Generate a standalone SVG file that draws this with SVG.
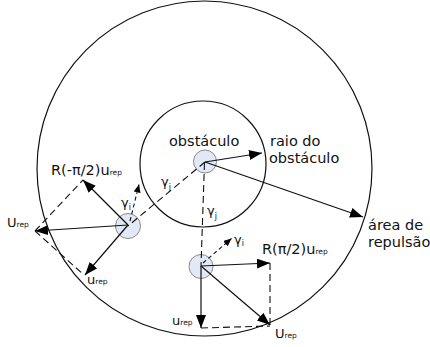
<svg xmlns="http://www.w3.org/2000/svg" width="430" height="347" viewBox="0 0 430 347">
<defs>
<marker id="arr" markerUnits="userSpaceOnUse" markerWidth="14" markerHeight="11" refX="13" refY="5" orient="auto"><path d="M0,0 L13,5 L0,10 z" fill="#000"/></marker>
<marker id="arrs" markerUnits="userSpaceOnUse" markerWidth="9" markerHeight="8" refX="8" refY="3.5" orient="auto"><path d="M0,0 L8,3.5 L0,7 z" fill="#000"/></marker>
<style>
.big{fill:none;stroke:#111;stroke-width:1.2}
.node{fill:#e2e8f5;stroke:#8a8a8a;stroke-width:1}
.v{stroke:#111;stroke-width:1.2;fill:none;marker-end:url(#arr)}
.d{stroke:#111;stroke-width:1.1;fill:none;stroke-dasharray:7 4}
.ds{stroke:#111;stroke-width:1.1;fill:none;stroke-dasharray:4 3;marker-end:url(#arrs)}
text{font-family:"DejaVu Sans","Liberation Sans",sans-serif;fill:#111}
.t{font-size:14.5px}
.m{font-size:13px}
.s{font-size:7.5px}
.g{font-size:13px}
.gs{font-size:8px}
</style>
</defs>
<g id="area-repulsao"><circle class="big" cx="204.5" cy="168.5" r="167.5"/></g>
<g id="raio-obstaculo"><circle class="big" cx="203" cy="164" r="63"/></g>
<g id="obstaculo"><circle class="node" cx="205" cy="161.5" r="11.5"/></g>
<g id="robo-i"><circle class="node" cx="128" cy="226" r="12.5"/></g>
<g id="robo-j"><circle class="node" cx="201" cy="266.5" r="12"/></g>
<g id="connectors">
<line class="v" x1="205" y1="162" x2="262" y2="153"/>
<line class="v" x1="205" y1="162" x2="363" y2="217"/>
<line class="d" x1="205" y1="162" x2="128" y2="226"/>
<line class="d" x1="204.5" y1="163" x2="201" y2="266"/>
<line class="v" x1="128" y1="225" x2="35" y2="231"/>
<line class="v" x1="128" y1="225" x2="83" y2="180"/>
<line class="v" x1="128" y1="225" x2="85" y2="275"/>
<line class="d" x1="35" y1="231" x2="83" y2="180"/>
<line class="d" x1="35" y1="231" x2="84" y2="275"/>
<line class="ds" x1="130" y1="221" x2="139" y2="184.5"/>
<line class="v" x1="201" y1="266" x2="270" y2="263"/>
<line class="v" x1="201" y1="266" x2="201" y2="328"/>
<line class="v" x1="201" y1="266" x2="270" y2="325"/>
<line class="d" x1="270" y1="263" x2="270" y2="325"/>
<line class="d" x1="201" y1="328" x2="270" y2="326"/>
<line class="ds" x1="203" y1="263" x2="231.5" y2="238.5"/>
</g>
<g id="labels">
<text class="t" x="169" y="146">obstáculo</text>
<text class="t" x="270" y="146">raio do</text>
<text class="t" x="269" y="163">obstáculo</text>
<text class="t" x="368" y="230">área de</text>
<text class="t" x="368" y="247">repulsão</text>
<text class="t" x="51" y="175">R(-π/2)u<tspan class="s" dy="0">rep</tspan></text>
<text class="t" x="262" y="254">R(π/2)u<tspan class="s">rep</tspan></text>
<text class="m" x="7" y="227">U<tspan class="s">rep</tspan></text>
<text class="m" x="87" y="284">u<tspan class="s">rep</tspan></text>
<text class="m" x="172" y="325">u<tspan class="s">rep</tspan></text>
<text class="m" x="275" y="338">U<tspan class="s">rep</tspan></text>
<text class="g" x="121" y="207">γ<tspan class="gs" dy="3">i</tspan></text>
<text class="g" x="161" y="186">γ<tspan class="gs" dy="4">j</tspan></text>
<text class="g" x="207" y="215">γ<tspan class="gs" dy="4">j</tspan></text>
<text class="g" x="234" y="244">γ<tspan class="gs" dy="2">i</tspan></text>
</g>
</svg>
